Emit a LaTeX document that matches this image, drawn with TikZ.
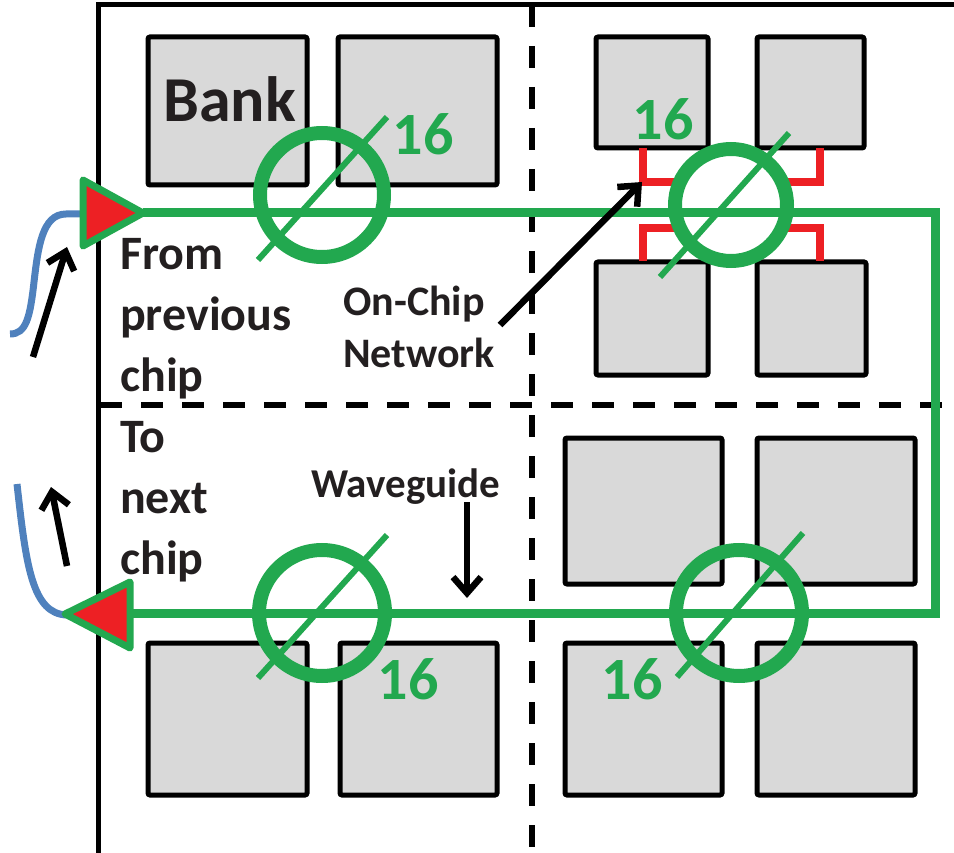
\documentclass[tikz,border=0pt]{standalone}
\usepackage{fontspec}
\setmainfont{Carlito}
\usetikzlibrary{arrows.meta,fit}
\definecolor{wg}{RGB}{34,168,79}
\definecolor{tri}{RGB}{237,32,36}
\definecolor{fib}{RGB}{79,129,189}
\definecolor{bankfill}{RGB}{217,217,217}
\definecolor{ink}{RGB}{35,31,32}
\begin{document}
\begin{tikzpicture}[x=1pt,y=-1pt,
  bankbox/.style={draw=black, fill=bankfill, line width=5pt, rounded corners=2pt, inner sep=0pt},
  divider/.style={draw=black, line width=5.5pt, dash pattern=on 22pt off 19pt},
  frame/.style={draw=black, line width=5pt},
  guide/.style={draw=wg, line width=9pt},
  ring/.style={draw=wg, line width=14pt, circle, inner sep=0pt},
  slash/.style={draw=wg, line width=6pt},
  width16/.style={text=wg, inner sep=0pt, font=\bfseries\fontsize{60}{60}\selectfont},
  label/.style={text=ink, inner sep=0pt, align=left},
  pointer/.style={draw=black, line width=6.5pt, -{Straight Barb[length=16pt, width=28pt]}},
  fiber/.style={draw=fib, line width=7pt},
  port/.style={draw=wg, fill=tri, line width=7pt, line join=round},
  tap/.style={draw=tri, line width=7.5pt}
]
\useasboundingbox (0,0) rectangle (954,853);

% chip outline and quadrant dividers
\draw[frame] (98,853) -- (98,5) -- (954,5);
\draw[divider] (532,5) -- (532,853);
\draw[divider] (100,405) -- (954,405);

% memory banks
\node[bankbox, fit={(148,37) (307,185)}] (bTL1) {};
\node[bankbox, fit={(338,37) (497,185)}] (bTL2) {};
\node[bankbox, fit={(596,37) (708,148)}] (bTR1) {};
\node[bankbox, fit={(757,37) (864,148)}] (bTR2) {};
\node[bankbox, fit={(596,262) (708,375)}] (bTR3) {};
\node[bankbox, fit={(757,262) (866,375)}] (bTR4) {};
\node[bankbox, fit={(565,438) (722,584)}] (bBR1) {};
\node[bankbox, fit={(757,438) (915,584)}] (bBR2) {};
\node[bankbox, fit={(565,643) (722,795)}] (bBR3) {};
\node[bankbox, fit={(757,643) (915,795)}] (bBR4) {};
\node[bankbox, fit={(148,643) (307,795)}] (bBL1) {};
\node[bankbox, fit={(340,643) (497,795)}] (bBL2) {};
\node[label, anchor=base west, font=\bfseries\fontsize{64}{64}\selectfont] (bankTxt) at (163,122) {Bank};

% red taps of the on-chip network
\draw[tap] (643,148) -- (643,182) -- (677,182);
\draw[tap] (820,148) -- (820,182) -- (786,182);
\draw[tap] (643,261) -- (643,228) -- (677,228);
\draw[tap] (820,261) -- (820,228) -- (786,228);

% optical waveguide loop
\coordinate (inTip) at (143,213);
\coordinate (bendTop) at (935,213);
\coordinate (bendBot) at (935,613);
\coordinate (outBase) at (130,613);
\coordinate (outTip) at (65,614);
\draw[guide] (inTip) -- (bendTop) -- (bendBot) -- (outBase);

% ring resonator groups
\node[ring, minimum size=124pt] (ring1) at (322,195) {};
\node[ring, minimum size=112pt] (ring2) at (731,205) {};
\node[ring, minimum size=126pt] (ring3) at (322,613) {};
\node[ring, minimum size=126pt] (ring4) at (739,613) {};
\draw[slash] (258,260) -- (387,117);
\draw[slash] (660,277) -- (789,133);
\draw[slash] (258,678) -- (387,535);
\draw[slash] (677,677) -- (803,533);
\node[width16] (w1) at (423,134) {16};
\node[width16] (w2) at (663,119) {16};
\node[width16] (w3) at (408,679) {16};
\node[width16] (w4) at (632,679) {16};

% fibers to the neighbouring chips
\draw[fiber] (86,214) -- (66,214) .. controls (42,214) and (38,248) .. (34,282) .. controls (30,318) and (26,334) .. (10,334);
\draw[fiber] (17,484) .. controls (26,565) and (32,614) .. (67,615);

% input and output couplers
\draw[port] (83,180) -- (inTip) -- (83,246) -- cycle;
\draw[port] (130,582) -- (outTip) -- (130,648) -- cycle;

% captions
\node[label, anchor=north west, font=\bfseries\fontsize{48}{61}\selectfont] (fromTxt) at (120,238) {From\\previous\\chip};
\node[label, anchor=north west, font=\bfseries\fontsize{48}{61}\selectfont] (toTxt) at (120,421) {To\\next\\chip};
\node[label, anchor=north west, font=\bfseries\fontsize{42}{52}\selectfont] (nocTxt) at (343,286) {On-Chip\\Network};
\node[label, anchor=base west, font=\bfseries\fontsize{41}{41}\selectfont] (wgTxt) at (311,497) {Waveguide};

% pointers
\coordinate (inArrTail) at (33,357);
\coordinate (inArrHead) at (67,247);
\coordinate (outArrTail) at (67,566);
\coordinate (outArrHead) at (51,487);
\coordinate (nocArrTail) at (500,325);
\coordinate (nocArrHead) at (642,182);
\coordinate (wgArrTail) at (467,502);
\coordinate (wgArrHead) at (467,598);
\draw[pointer] (inArrTail) -- (inArrHead);
\draw[pointer] (outArrTail) -- (outArrHead);
\draw[pointer] (nocArrTail) -- (nocArrHead);
\draw[pointer] (wgArrTail) -- (wgArrHead);
\end{tikzpicture}
\end{document}
